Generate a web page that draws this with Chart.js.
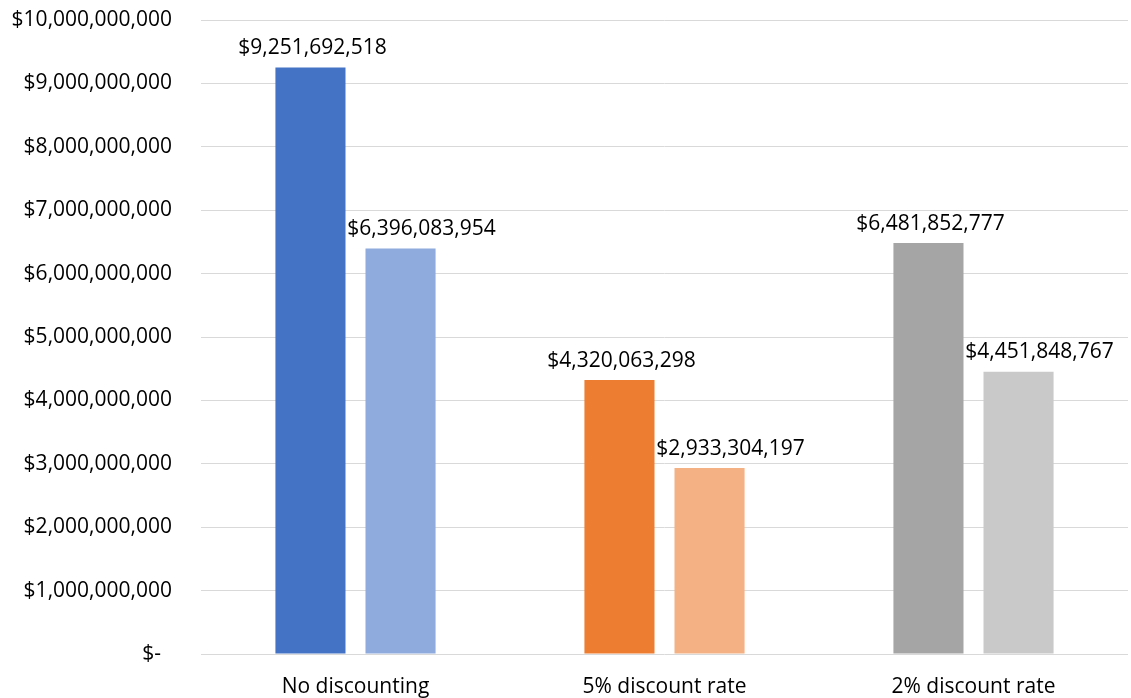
<!DOCTYPE html>
<html>
<head>
<meta charset="utf-8">
<script src="https://cdn.jsdelivr.net/npm/chart.js@4"></script>
<style>
  html, body { margin: 0; padding: 0; background: #fff; }
  #wrap { width: 1131px; height: 698px; }
</style>
</head>
<body>
<div id="wrap"><canvas id="c" width="1131" height="698"></canvas></div>
<script>
// Cost totals by discounting scenario
const categories = ['No discounting', '5% discount rate', '2% discount rate'];
const seriesA = [9251692518, 4320063298, 6481852777];
const seriesB = [6396083954, 2933304197, 4451848767];
const colorsA = ['#4472C4', '#ED7D31', '#A5A5A5'];
const colorsB = ['#8FAADC', '#F4B183', '#C9C9C9'];
const yMax = 10000000000;
const yStep = 1000000000;

const FONT = '"Open Sans", "Liberation Sans", sans-serif';
const FONT_SIZE = 21;

function money(v) {
  if (v === 0) return '$-  ';
  return '$' + Math.round(v).toLocaleString('en-US');
}

// Draws the dollar value above each bar
const valueLabels = {
  id: 'valueLabels',
  afterDatasetsDraw(chart) {
    const ctx = chart.ctx;
    ctx.save();
    ctx.font = FONT_SIZE + 'px ' + FONT;
    ctx.fillStyle = '#000';
    ctx.textAlign = 'center';
    ctx.textBaseline = 'bottom';
    chart.data.datasets.forEach((ds, di) => {
      const meta = chart.getDatasetMeta(di);
      const dx = ds.labelShift || 0;
      meta.data.forEach((bar, i) => {
        ctx.fillText(money(ds.data[i]), bar.x + dx, bar.y - 9);
      });
    });
    ctx.restore();
  }
};

new Chart(document.getElementById('c'), {
  type: 'bar',
  data: {
    labels: categories,
    datasets: [
      { data: seriesA, backgroundColor: colorsA, borderWidth: 0, labelShift: 2 },
      { data: seriesB, backgroundColor: colorsB, borderWidth: 0, labelShift: 21 }
    ]
  },
  options: {
    responsive: false,
    animation: false,
    devicePixelRatio: 1,
    layout: { padding: { top: 20, right: 3, bottom: 0, left: 0 } },
    datasets: {
      bar: { categoryPercentage: 0.583, barPercentage: 0.778 }
    },
    plugins: {
      legend: { display: false },
      tooltip: { enabled: false }
    },
    scales: {
      x: {
        grid: { display: false, drawTicks: false },
        border: { display: false },
        ticks: { color: '#000', font: { family: FONT, size: FONT_SIZE }, padding: 20, maxRotation: 0 },
        afterFit(scale) { scale.height = 44; scale.paddingTop = 0; scale.paddingBottom = 0; }
      },
      y: {
        min: 0,
        max: yMax,
        grid: { color: '#D9D9D9', lineWidth: 1, drawTicks: false },
        border: { display: false },
        ticks: {
          stepSize: yStep,
          color: '#000',
          font: { family: FONT, size: FONT_SIZE },
          padding: 29,
          callback: (v) => money(v)
        },
        afterFit(scale) { scale.width = 201; scale.paddingTop = 12; scale.paddingBottom = 0; }
      }
    }
  },
  plugins: [valueLabels]
});
</script>
</body>
</html>
